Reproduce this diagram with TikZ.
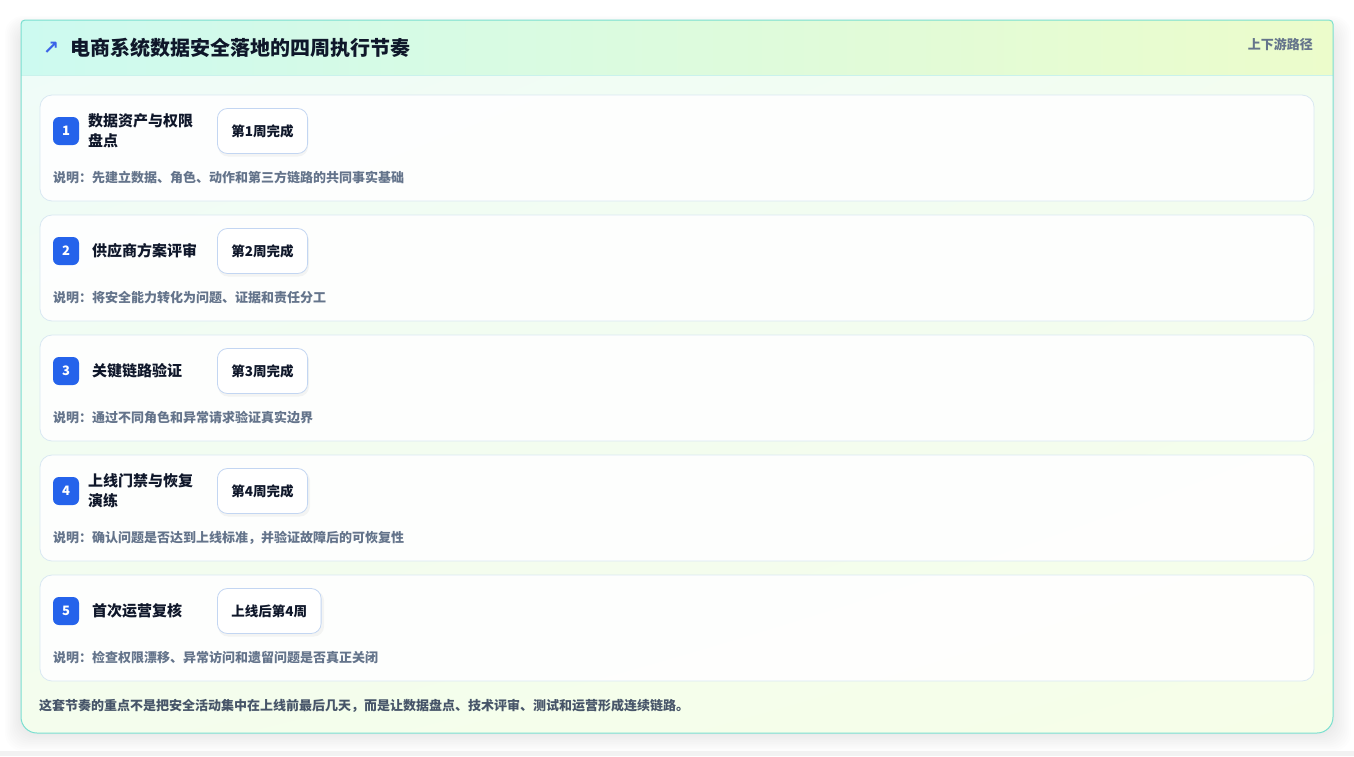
\documentclass[tikz,border=0pt]{standalone}
\usepackage{fontspec}
\setmainfont{Noto Sans CJK SC}
\newfontfamily\arrowfont{DejaVu Sans}
\usetikzlibrary{positioning,shadings}
\definecolor{edgeteal}{HTML}{7ADFD0}
\definecolor{headleft}{HTML}{CDFAF0}
\definecolor{headright}{HTML}{ECFCCB}
\definecolor{bodyleft}{HTML}{EFFCF9}
\definecolor{bodyright}{HTML}{F6FEE8}
\definecolor{cardline}{HTML}{D9E8F2}
\definecolor{pillline}{HTML}{C3D6F2}
\definecolor{badgeblue}{HTML}{2563EB}
\definecolor{inkdark}{HTML}{0F172A}
\definecolor{inkgray}{HTML}{64748B}
\definecolor{inkfoot}{HTML}{475569}
\definecolor{iconblue}{HTML}{3B63E8}

\begin{document}
\begin{tikzpicture}[
        x=1pt,y=-1pt,
        outerpath/.style={insert path={(21,400) [rounded corners=4pt] -- (21,20) -- (1333,20) -- (1333,400)
            [rounded corners=16pt] -- (1333,733) -- (21,733) -- cycle}},
        card/.style={draw=cardline,fill=white,fill opacity=0.9,rounded corners=12pt,line width=0.8pt},
        badge/.style={fill=badgeblue,text=white,rounded corners=6pt,minimum width=26pt,
            minimum height=28pt,inner sep=0pt,font=\fontsize{13}{13}\selectfont\bfseries},
        steptitle/.style={anchor=west,inner sep=0pt,align=left,text=inkdark,
            font=\fontsize{15}{20}\selectfont\bfseries},
        pill/.style={anchor=west,draw=pillline,fill=white,rounded corners=10pt,line width=0.8pt,
            minimum height=45pt,inner xsep=14pt,text=inkdark,font=\fontsize{13.5}{13.5}\selectfont\bfseries},
        note/.style={anchor=west,inner sep=0pt,text=inkgray,font=\fontsize{13}{13}\selectfont\bfseries}
    ]
    \useasboundingbox (0,0) rectangle (1354,756);
    \fill[white] (0,0) rectangle (1354,756);
    \fill[black!5] (0,751) rectangle (1354,756);

    % soft shadow of the outer card
    \foreach \s in {1,...,10} {
        \fill[black,opacity=0.007,rounded corners=18pt]
            (21-\s*1.6,20-\s*1.2+8) rectangle (1333+\s*1.8,733+\s*1.8);
    }

    % outer card body and header
    \begin{scope}
        \clip[outerpath];
        \shade[upper left=bodyleft,upper right=bodyleft!50!bodyright,
            lower left=bodyright!70!bodyleft,lower right=bodyright] (21,20) rectangle (1333,733);
        \shade[left color=headleft,right color=headright] (21,20) rectangle (1333,75);
        \draw[edgeteal!40,line width=0.8pt] (21,75) -- (1333,75);
    \end{scope}
    \draw[edgeteal,line width=1pt,outerpath];

    \node[text=iconblue,font=\arrowfont\fontsize{19}{19}\selectfont\bfseries] (icon) at (51,48) {↗};
    \node[anchor=west,inner sep=0pt,text=inkdark,font=\fontsize{20}{20}\selectfont\bfseries]
        (heading) at (70,48) {电商系统数据安全落地的四周执行节奏};
    \node[anchor=east,inner sep=0pt,text=inkgray,font=\fontsize{13}{13}\selectfont\bfseries]
        (route) at (1313,44) {上下游路径};

    \foreach \i/\tx/\px/\ttl/\wk/\desc in {
        1/88/308/{数据资产与权限\\盘点}/{第1周完成}/{先建立数据、角色、动作和第三方链路的共同事实基础},
        2/92/309/{供应商方案评审}/{第2周完成}/{将安全能力转化为问题、证据和责任分工},
        3/92/309/{关键链路验证}/{第3周完成}/{通过不同角色和异常请求验证真实边界},
        4/88/310/{上线门禁与恢复\\演练}/{第4周完成}/{确认问题是否达到上线标准，并验证故障后的可恢复性},
        5/92/324/{首次运营复核}/{上线后第4周}/{检查权限漂移、异常访问和遗留问题是否真正关闭}} {
        \pgfmathsetmacro{\y}{95+(\i-1)*120}
        \draw[card] (40,\y) rectangle (1314,\y+106);
        \node[badge] (badge\i) at (66,\y+36) {\i};
        \node[steptitle] (title\i) at (\tx,\y+36) {\ttl};
        \fill[black,opacity=0.04,rounded corners=10pt] (218,\y+15.5) rectangle (\px,\y+61.5);
        \node[pill] (week\i) at (217,\y+36) {\wk};
        \node[note] (desc\i) at (53,\y+83) {说明：\desc};
    }

    \node[anchor=west,inner sep=0pt,text=inkfoot,font=\fontsize{13}{13}\selectfont\bfseries]
        (footer) at (39,706) {这套节奏的重点不是把安全活动集中在上线前最后几天，而是让数据盘点、技术评审、测试和运营形成连续链路。};
\end{tikzpicture}
\end{document}
